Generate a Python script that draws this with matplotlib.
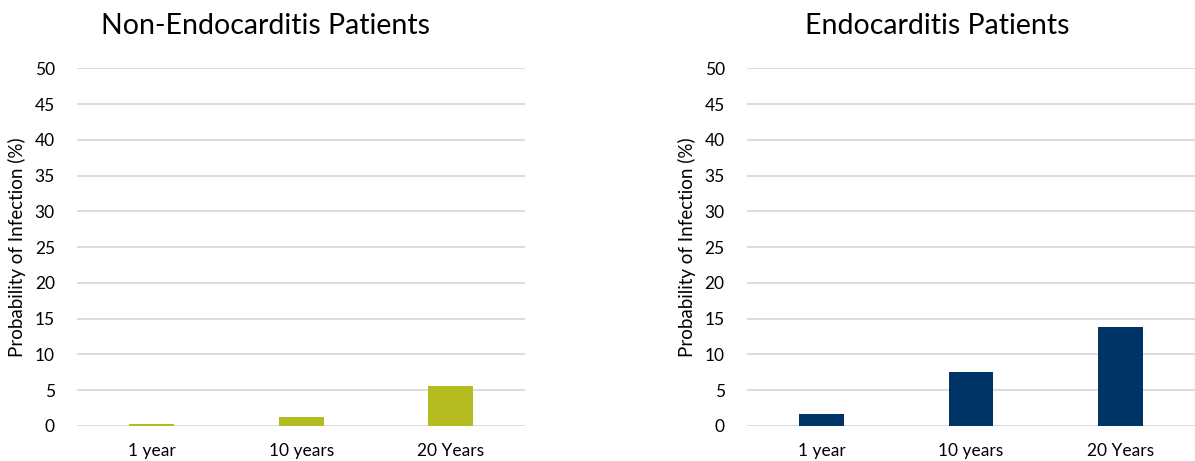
import numpy as np
import matplotlib.pyplot as plt

# ---------------------------------------------------------
# Data
# ---------------------------------------------------------
periods = ["1 year", "10 years", "20 Years"]
non_endo = [0.25, 1.2, 5.6]
endo = [1.7, 7.6, 13.9]
yticks = list(range(0, 55, 5))

plt.rcParams['font.family'] = ['Lato', 'DejaVu Sans']

fig = plt.figure(figsize=(11.95, 4.61), dpi=100)

panels = [
    ("Non-Endocarditis Patients", non_endo, "#b3bb1f", [0.0645, 0.076, 0.375, 0.776], 0.222),
    ("Endocarditis Patients", endo, "#003466", [0.625, 0.076, 0.375, 0.776], 0.784),
]

for title, vals, color, rect, tx in panels:
    ax = fig.add_axes(rect)
    x = np.arange(len(periods))
    ax.bar(x, vals, width=0.3, color=color, zorder=3)
    ax.set_xlim(-0.5, len(periods) - 0.5)
    ax.set_ylim(0, 50)
    ax.set_yticks(yticks)
    ax.set_xticks(x)
    ax.set_xticklabels(periods, fontsize=12.5)
    ax.tick_params(axis='y', labelsize=12.5, length=0, pad=16)
    ax.tick_params(axis='x', length=0, pad=12)
    ax.grid(axis='y', color='#d9d9d9', linewidth=1.3, zorder=0)
    for s in ax.spines.values():
        s.set_visible(False)
    ax.set_ylabel("Probability of Infection (%)", fontsize=13.5, labelpad=6)
    fig.text(tx, 0.943, title, fontsize=20.5, ha='center', va='center')

plt.savefig("out.png", dpi=100)
